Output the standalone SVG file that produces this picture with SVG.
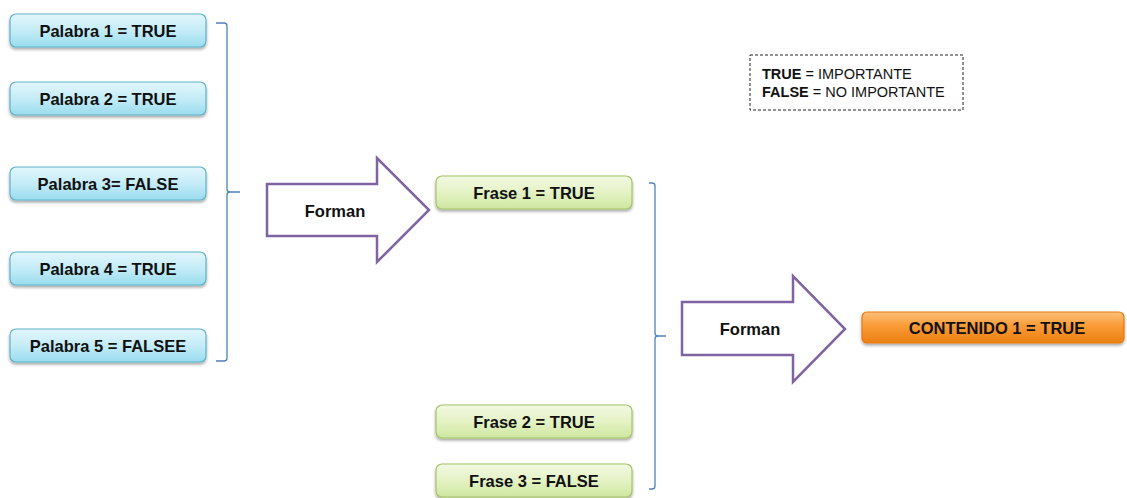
<svg xmlns="http://www.w3.org/2000/svg" width="1127" height="498" viewBox="0 0 1127 498">
  <defs>
    <linearGradient id="gBlue" x1="0" y1="0" x2="0" y2="1">
      <stop offset="0" stop-color="#e3f6fc"/>
      <stop offset="0.5" stop-color="#c4ecf7"/>
      <stop offset="1" stop-color="#9adcee"/>
    </linearGradient>
    <linearGradient id="gGreen" x1="0" y1="0" x2="0" y2="1">
      <stop offset="0" stop-color="#f3f9e4"/>
      <stop offset="0.5" stop-color="#e4f2c4"/>
      <stop offset="1" stop-color="#cfe7a0"/>
    </linearGradient>
    <linearGradient id="gOrange" x1="0" y1="0" x2="0" y2="1">
      <stop offset="0" stop-color="#fcc07c"/>
      <stop offset="0.45" stop-color="#f99b36"/>
      <stop offset="1" stop-color="#ec7f12"/>
    </linearGradient>
    <filter id="shadow" x="-5%" y="-20%" width="110%" height="150%">
      <feGaussianBlur in="SourceAlpha" stdDeviation="1.5"/>
      <feOffset dx="0" dy="2" result="b"/>
      <feComponentTransfer><feFuncA type="linear" slope="0.35"/></feComponentTransfer>
      <feMerge><feMergeNode/><feMergeNode in="SourceGraphic"/></feMerge>
    </filter>
  </defs>
  <style>
    .word { fill: url(#gBlue); stroke: #5eb3c9; stroke-width: 1.2; filter: url(#shadow); }
    .phrase { fill: url(#gGreen); stroke: #a4c465; stroke-width: 1.2; filter: url(#shadow); }
    .content { fill: url(#gOrange); stroke: #e57a12; stroke-width: 1.2; filter: url(#shadow); }
    .lbl { font-family: "Liberation Sans", Arial, sans-serif; font-weight: bold; font-size: 16.5px; fill: #111111; text-anchor: middle; }
    .brace { fill: none; stroke: #4f81bd; stroke-width: 1.3; }
    .bigarrow { fill: #ffffff; stroke: #8064a2; stroke-width: 2.5; stroke-linejoin: miter; }
    .legend { font-family: "Liberation Sans", Arial, sans-serif; font-size: 14.5px; fill: #111111; }
  </style>

  <!-- brackets and block arrows -->
  <g id="connectors">
    <path class="brace" d="M216,23 L224,23 Q227,23 227,26 L227,189 Q227,192 230,192 L240,192 M230,192 Q227,192 227,195 L227,358 Q227,361 224,361 L216,361"/>
    <path class="brace" d="M649,183 L652,183 Q655,183 655,186 L655,333 Q655,336 658,336 L666,336 M658,336 Q655,336 655,339 L655,486 Q655,489 652,489 L649,489"/>
    <g id="arrow1">
      <polygon class="bigarrow" points="267,184 377,184 377,158 429,210 377,262 377,236 267,236"/>
      <text class="lbl" x="335" y="217">Forman</text>
    </g>
    <g id="arrow2">
      <polygon class="bigarrow" points="682,302 793,302 793,276 845,329 793,382 793,355 682,355"/>
      <text class="lbl" x="750" y="335">Forman</text>
    </g>
  </g>

  <!-- words -->
  <g id="palabra1"><rect class="word" x="10" y="14" width="196" height="33" rx="6"/><text class="lbl" x="108" y="37">Palabra 1 = TRUE</text></g>
  <g id="palabra2"><rect class="word" x="10" y="82" width="196" height="33" rx="6"/><text class="lbl" x="108" y="105">Palabra 2 = TRUE</text></g>
  <g id="palabra3"><rect class="word" x="10" y="167" width="196" height="33" rx="6"/><text class="lbl" x="108" y="190">Palabra 3= FALSE</text></g>
  <g id="palabra4"><rect class="word" x="10" y="252" width="196" height="33" rx="6"/><text class="lbl" x="108" y="275">Palabra 4 = TRUE</text></g>
  <g id="palabra5"><rect class="word" x="10" y="329" width="196" height="33" rx="6"/><text class="lbl" x="108" y="352">Palabra 5 = FALSEE</text></g>

  <!-- phrases -->
  <g id="frase1"><rect class="phrase" x="436" y="176" width="196" height="33" rx="6"/><text class="lbl" x="534" y="199">Frase 1 = TRUE</text></g>
  <g id="frase2"><rect class="phrase" x="436" y="405" width="196" height="33" rx="6"/><text class="lbl" x="534" y="428">Frase 2 = TRUE</text></g>
  <g id="frase3"><rect class="phrase" x="436" y="464" width="196" height="33" rx="6"/><text class="lbl" x="534" y="487">Frase 3 = FALSE</text></g>

  <!-- content -->
  <g id="contenido1"><rect class="content" x="862" y="312" width="262" height="31" rx="5"/><text class="lbl" x="997" y="334">CONTENIDO 1 = TRUE</text></g>

  <!-- legend -->
  <g id="legend">
    <rect x="750" y="55" width="213" height="55" fill="#ffffff" stroke="#222" stroke-width="1" stroke-dasharray="3,2"/>
    <text class="legend" x="762" y="79"><tspan font-weight="bold">TRUE</tspan> = IMPORTANTE</text>
    <text class="legend" x="762" y="97"><tspan font-weight="bold">FALSE</tspan> = NO IMPORTANTE</text>
  </g>
</svg>
